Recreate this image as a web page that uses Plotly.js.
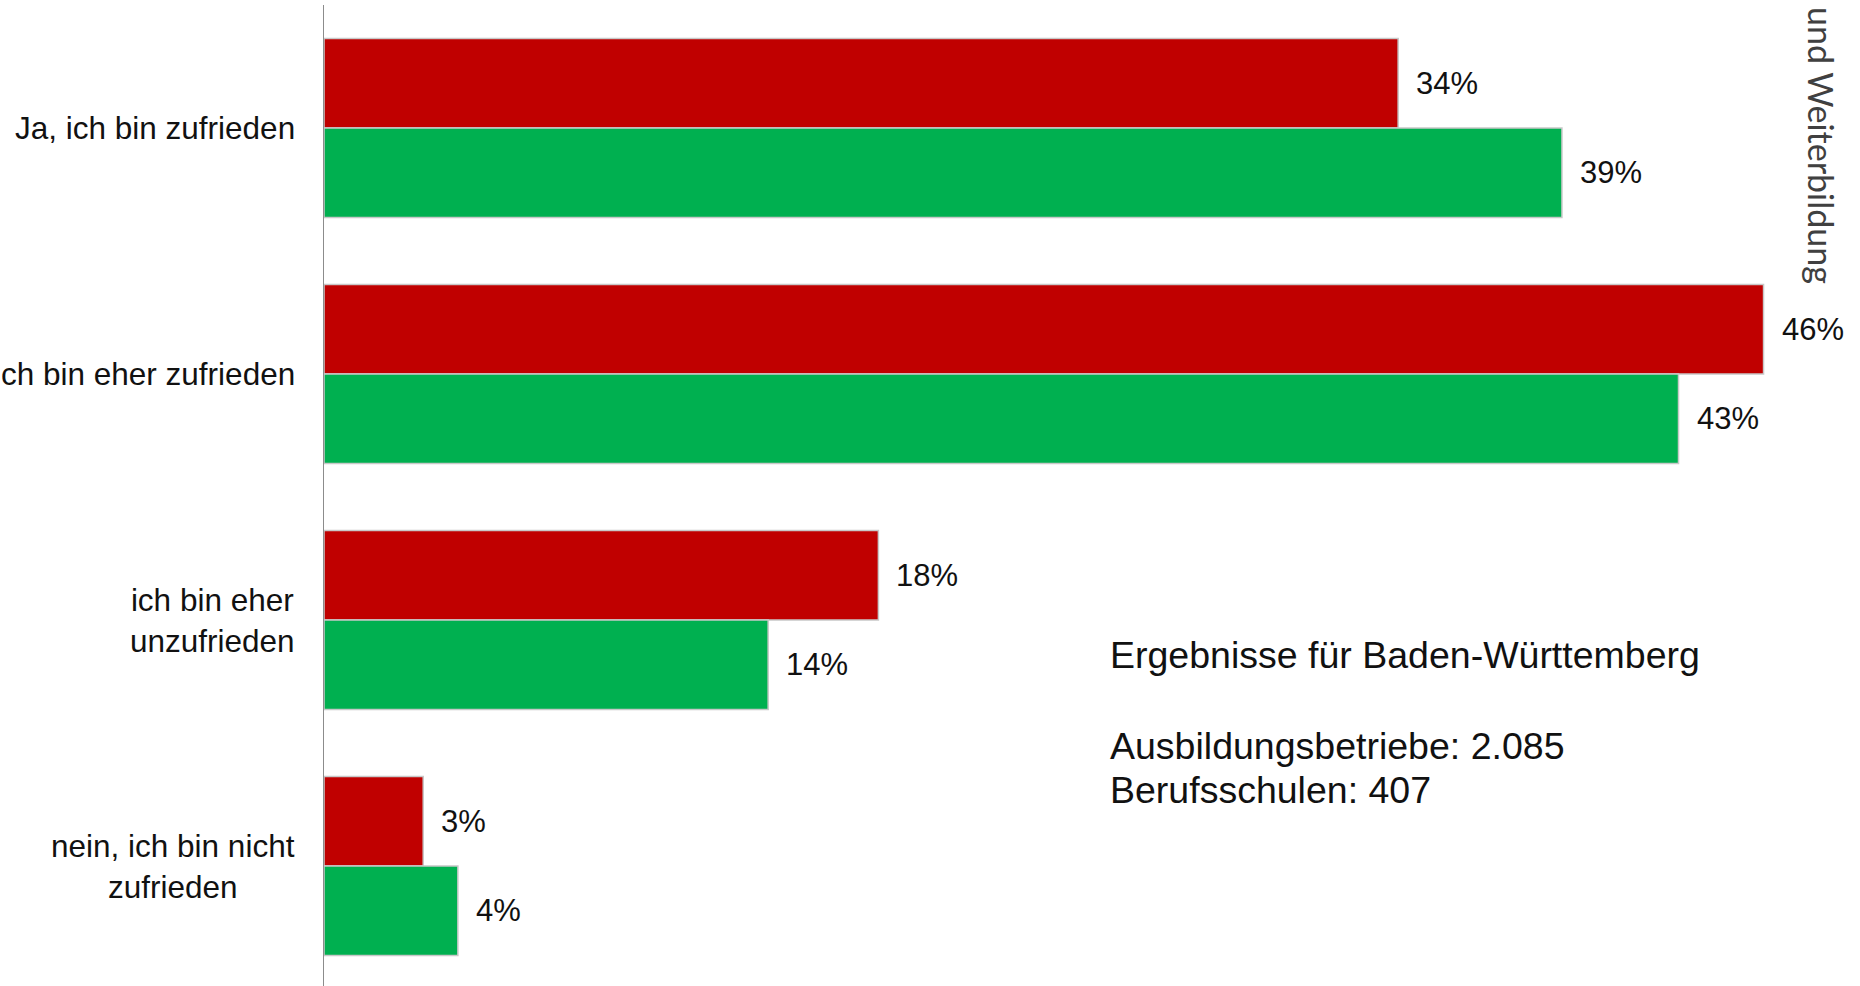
<!DOCTYPE html>
<html>
<head>
<meta charset="utf-8">
<script src="https://cdn.plot.ly/plotly-3.0.1.min.js"></script>
<style>
  html, body { margin: 0; padding: 0; background: #ffffff; overflow: hidden; }
  #chart { width: 1860px; height: 989px; }
</style>
</head>
<body>
<div id="chart"></div>
<script>
// ---- data ----
const categories = [
  "Ja, ich bin zufrieden",
  "ich bin eher zufrieden",
  "ich bin eher<br>unzufrieden",
  "nein, ich bin nicht<br>zufrieden"
];
const seriesNames = ["Ausbildungsbetriebe", "Berufsschulen"];
const redValues   = [34.1, 45.7, 17.6, 3.15];   // red bars (upper bar of each pair)
const greenValues = [39.3, 43.0, 14.1, 4.25];   // green bars (lower bar of each pair)
const infoLines = [
  "Ergebnisse für Baden-Württemberg",
  "Ausbildungsbetriebe: 2.085",
  "Berufsschulen: 407"
];
const sideText = "und Weiterbildung";

// ---- layout constants ----
const W = 1860, H = 989;
const M = { l: 324, r: 0, t: 5, b: 0 };
const plotW = W - M.l - M.r, plotH = H - M.t - M.b;
const pxPerUnit = 31.5;
const xMax = plotW / pxPerUnit;
const bargap = 0.272;
const barHalf = (1 - bargap) / 4;   // centre offset of each bar within a group (data units)

const FONT = "'Liberation Sans', Arial, sans-serif";
const RED = "#C00000", GREEN = "#00B050";

const traces = [
  {
    type: "bar", orientation: "h", name: seriesNames[0],
    y: categories, x: redValues,
    marker: { color: RED, line: { color: "#c8c8c8", width: 1.5 } },
    hoverinfo: "x+name"
  },
  {
    type: "bar", orientation: "h", name: seriesNames[1],
    y: categories, x: greenValues,
    marker: { color: GREEN, line: { color: "#c8c8c8", width: 1.5 } },
    hoverinfo: "x+name"
  }
];

function py(p) { return 1 - (p - M.t) / plotH; }   // pixel y -> paper y
function px(p) { return (p - M.l) / plotW; }       // pixel x -> paper x

const annotations = [];

// category labels (centred multi-line block, right edge near the axis)
categories.forEach((c, i) => {
  annotations.push({
    xref: "paper", yref: "y", x: 0, y: i, xshift: -27,
    xanchor: "right", yanchor: "middle", align: "center",
    text: c, showarrow: false,
    font: { family: FONT, size: 31.5, color: "#111111" }
  });
});

// value labels
function addValueLabels(vals, sign) {
  vals.forEach((v, i) => {
    annotations.push({
      xref: "x", yref: "y", x: v, y: i + sign * barHalf, xshift: 16,
      xanchor: "left", yanchor: "middle",
      text: Math.round(v) + "%", showarrow: false,
      font: { family: FONT, size: 31, color: "#111111" }
    });
  });
}
addValueLabels(redValues, -1);
addValueLabels(greenValues, 1);

// info text block
const infoY = [655, 746, 790];
infoLines.forEach((t, k) => {
  annotations.push({
    xref: "paper", yref: "paper", x: px(1108), y: py(infoY[k]),
    xanchor: "left", yanchor: "middle", text: t, showarrow: false,
    font: { family: FONT, size: 37.5, color: "#111111" }
  });
});

// rotated side text (cut at top edge in the reference)
annotations.push({
  xref: "paper", yref: "paper", x: px(1822), y: py(145),
  xanchor: "center", yanchor: "middle", textangle: 90,
  text: sideText, showarrow: false,
  font: { family: "Lato, 'Open Sans', sans-serif", size: 34, color: "#404040" }
});

const layout = {
  width: W, height: H,
  margin: M,
  paper_bgcolor: "#ffffff", plot_bgcolor: "#ffffff",
  barmode: "group", bargap: bargap, bargroupgap: 0,
  showlegend: false,
  font: { family: FONT },
  xaxis: {
    range: [0, xMax], showgrid: false, zeroline: false,
    showticklabels: false, ticks: "", showline: false, fixedrange: true
  },
  yaxis: {
    type: "category", autorange: "reversed",
    showgrid: false, zeroline: false, showticklabels: false, ticks: "",
    showline: true, linecolor: "#8c8c8c", linewidth: 1.5, fixedrange: true
  },
  annotations: annotations
};

Plotly.newPlot("chart", traces, layout, { displayModeBar: false, staticPlot: true });
</script>
</body>
</html>
